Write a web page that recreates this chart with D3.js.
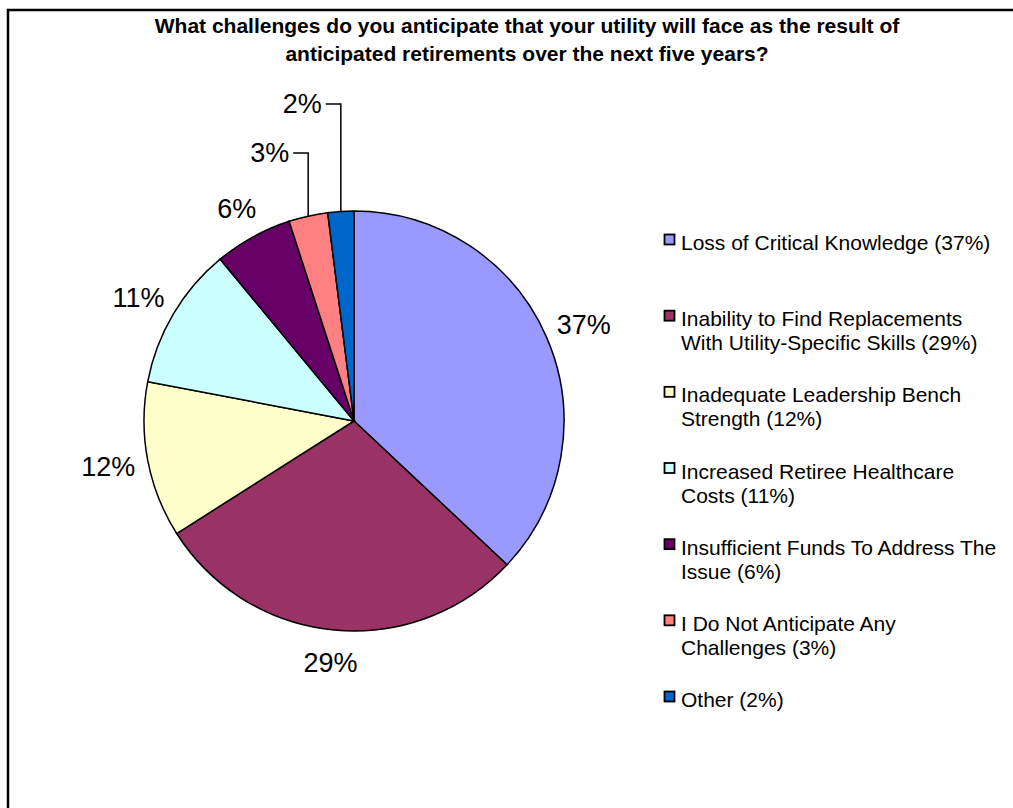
<!DOCTYPE html>
<html>
<head>
<meta charset="utf-8">
<script src="https://cdn.jsdelivr.net/npm/d3@7"></script>
<style>
  body { margin: 0; background: #fff; }
  text { font-family: Arial, "Liberation Sans", sans-serif; fill: #000; }
</style>
</head>
<body>
<div id="wrapper"></div>
<script>
// data
const categories = [
  "Loss of Critical Knowledge",
  "Inability to Find Replacements With Utility-Specific Skills",
  "Inadequate Leadership Bench Strength",
  "Increased Retiree Healthcare Costs",
  "Insufficient Funds To Address The Issue",
  "I Do Not Anticipate Any Challenges",
  "Other"
];
const values = [37, 29, 12, 11, 6, 3, 2];
const colors = ["#9999FF", "#993366", "#FFFFCC", "#CCFFFF", "#660066", "#FF8080", "#0066CC"];
const titleLines = [
  "What challenges do you anticipate that your utility will face as the result of",
  "anticipated retirements over the next five years?"
];

const dataset = categories.map((c, i) => ({ name: c, value: values[i], color: colors[i] }));

// dimensions
const width = 1013, height = 808;
const cx = 354, cy = 421, radius = 210;

const svg = d3.select("#wrapper").append("svg")
  .attr("width", width)
  .attr("height", height);

// chart border (runs off the right and bottom of the picture)
svg.append("path")
  .attr("d", `M8,${height} V10 H${width}`)
  .attr("fill", "none")
  .attr("stroke", "#000")
  .attr("stroke-width", 2.5);

// title
svg.append("g").selectAll("text")
  .data(titleLines)
  .join("text")
  .attr("x", 527)
  .attr("y", (d, i) => 33 + i * 28)
  .attr("text-anchor", "middle")
  .style("font-weight", "bold")
  .style("font-size", "21px")
  .text(d => d);

// pie
const pie = d3.pie().value(d => d.value).sort(null);
const arcs = pie(dataset);
const arc = d3.arc().innerRadius(0).outerRadius(radius);

const bounds = svg.append("g").attr("transform", `translate(${cx},${cy})`);

bounds.selectAll("path")
  .data(arcs)
  .join("path")
  .attr("d", arc)
  .attr("fill", d => d.data.color)
  .attr("stroke", "#000")
  .attr("stroke-width", 1.5);

// labels
const fmt = d => d.data.value + "%";
const labelFont = 27;
let smallIdx = 0;
arcs.forEach(d => {
  const a = (d.startAngle + d.endAngle) / 2;
  const s = Math.sin(a), c = Math.cos(a);
  if (d.data.value >= 5) {
    const w = fmt(d).length * labelFont * 0.5, h = 26;
    const rr = radius + 20;
    const x = rr * s + s * w / 2;
    const y = -rr * c - c * h / 2;
    bounds.append("text")
      .attr("x", x)
      .attr("y", y)
      .attr("text-anchor", "middle")
      .attr("dy", "0.35em")
      .style("font-size", labelFont + "px")
      .text(fmt(d));
  } else {
    // leader line labels for thin slices
    const px = radius * s, py = -radius * c;
    const ly = -radius - 58 - 49 * smallIdx;
    const hx = px - 15;
    bounds.append("path")
      .attr("d", `M${hx},${ly} H${px} V${py}`)
      .attr("fill", "none")
      .attr("stroke", "#000")
      .attr("stroke-width", 1.5);
    bounds.append("text")
      .attr("x", hx - 4)
      .attr("y", ly)
      .attr("dy", "0.35em")
      .attr("text-anchor", "end")
      .style("font-size", labelFont + "px")
      .text(fmt(d));
    smallIdx++;
  }
});

// legend
const legendY = d3.scaleLinear().domain([0, dataset.length - 1]).range([250, 707]);
const legend = svg.append("g");
const maxW = 318;
dataset.forEach((d, i) => {
  const y = legendY(i);
  legend.append("rect")
    .attr("x", 664.5)
    .attr("y", y - 15.5)
    .attr("width", 10)
    .attr("height", 10)
    .attr("fill", d.color)
    .attr("stroke", "#000")
    .attr("stroke-width", 1.8);
  const t = legend.append("text")
    .attr("x", 681)
    .attr("y", y)
    .style("font-size", "21px");
  const words = (d.name + " (" + d.value + "%)").split(" ");
  let line = [], lineNo = 0;
  let tspan = t.append("tspan").attr("x", 681).attr("y", y);
  words.forEach(wd => {
    line.push(wd);
    tspan.text(line.join(" "));
    if (tspan.node().getComputedTextLength() > maxW && line.length > 1) {
      line.pop();
      tspan.text(line.join(" "));
      line = [wd];
      lineNo++;
      tspan = t.append("tspan").attr("x", 681).attr("y", y + lineNo * 24).text(wd);
    }
  });
});
</script>
</body>
</html>
